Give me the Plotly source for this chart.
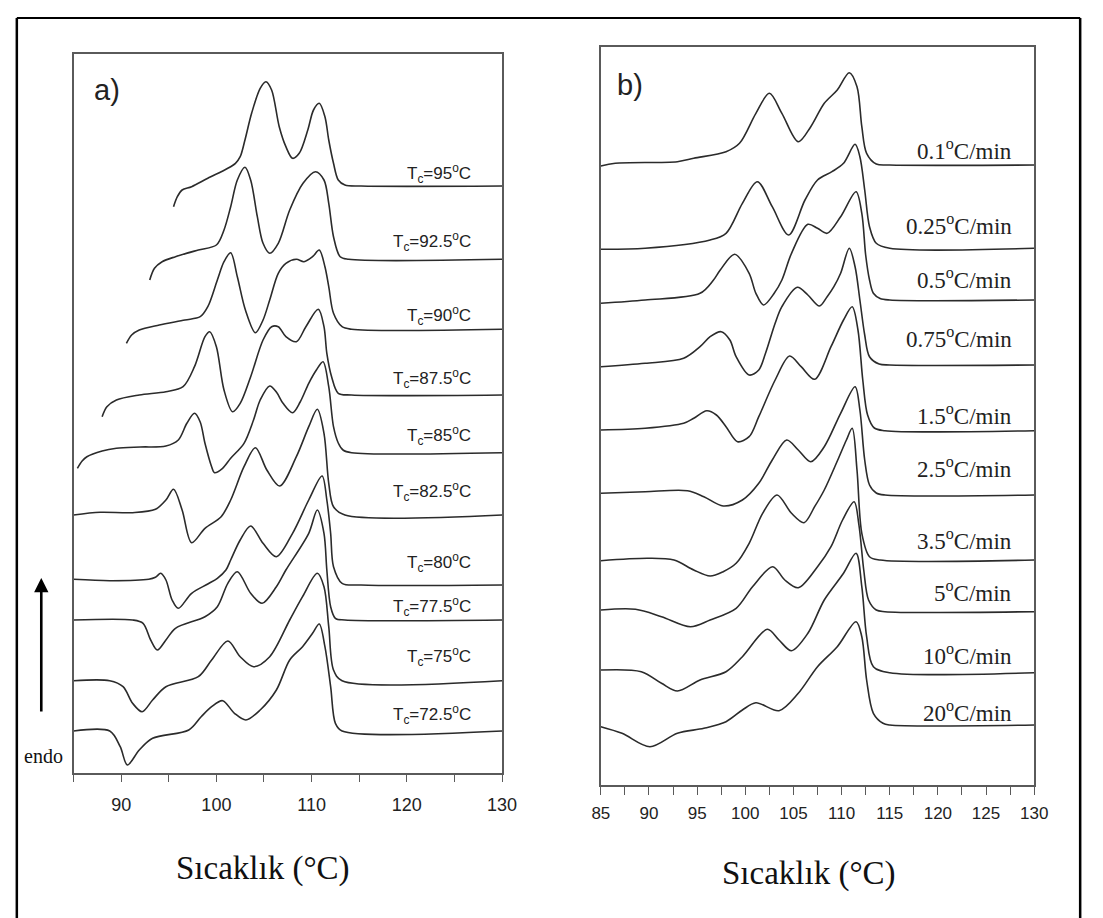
import plotly.graph_objects as go

# ---------------- Panel a: isothermal crystallization (Tc) ----------------
tc_labels = ["95", "92.5", "90", "87.5", "85", "82.5", "80", "77.5", "75", "72.5"]

tc95_temp = [95.5, 95.9, 96.4, 97.4, 99.1, 101.2, 102.0, 102.5, 103.0, 103.7, 104.6, 105.2, 105.8, 106.6,
             107.3, 108.0, 108.7, 109.6, 110.2, 110.8, 111.4, 111.8, 112.3, 112.8, 113.5, 115.2, 130]
tc95_flow = [-20.7, -10.7, -4.0, -0.7, 7.7, 17.7, 22.7, 29.3, 46.0, 72.7, 97.7, 104.3, 96.0, 59.3,
             39.3, 27.7, 32.7, 56.0, 76.0, 82.7, 69.3, 46.0, 22.7, 6.0, 1.0, 0, 0]

tc92_5_temp = [93.0, 93.5, 94.3, 95.7, 98.1, 100.0, 100.8, 101.5, 102.2, 103.0, 103.6, 104.3, 104.9, 105.6,
               106.5, 107.7, 109.1, 110.4, 111.3, 111.8, 112.3, 113.0, 113.9, 130]
tc92_5_flow = [-20.7, -9.0, -2.4, 2.6, 9.3, 14.3, 29.3, 52.6, 79.3, 92.0, 79.3, 42.6, 16.0, 6.0,
               16.0, 49.3, 76.0, 87.6, 79.3, 56.0, 22.6, 2.6, 0, 0]

tc90_temp = [90.55, 91.1, 91.9, 94.0, 96.7, 98.3, 99.1, 100.1, 100.8, 101.5, 102.2, 103.05, 104.1, 104.9,
             105.6, 106.5, 107.3, 108.4, 109.2, 110.1, 110.8, 111.4, 111.8, 112.3, 113.2, 114.2, 130]
tc90_flow = [-14.0, -5.7, -0.7, 4.3, 9.3, 12.6, 22.6, 49.3, 67.6, 76.6, 52.6, 19.3, -3.4, 9.3,
             29.3, 56.0, 66.0, 70.0, 67.6, 72.6, 79.3, 62.6, 42.6, 16.0, 2.6, 0, 0]

tc87_5_temp = [88.0, 88.5, 89.5, 91.9, 94.7, 96.5, 97.7, 98.8, 99.3, 100.0, 100.8, 101.7, 102.5, 103.6,
               104.9, 105.8, 106.5, 107.3, 108.4, 109.4, 110.7, 111.3, 111.6, 112.1, 112.8, 114.2, 130]
tc87_5_flow = [-21.7, -11.7, -5.0, 0, 3.3, 8.3, 28.3, 58.3, 63.3, 48.3, 5.0, -16.7, -8.3, 18.3,
               55.0, 68.3, 68.3, 58.3, 53.3, 68.3, 85.7, 68.3, 41.7, 18.3, 1.7, 0, 0]

tc85_temp = [85.4, 85.9, 86.4, 88.0, 89.5, 92.0, 94.7, 96.0, 96.9, 97.7, 98.3, 98.8, 99.5, 99.8, 100.65,
             101.5, 102.9, 103.9, 104.6, 105.6, 106.3, 107.0, 108.0, 108.8, 109.7, 110.5, 111.2, 111.8,
             112.3, 112.8, 113.3, 114.2, 130]
tc85_flow = [-15.6, -8.3, -4.0, 1.7, 4.4, 5.7, 6.7, 12.7, 29.4, 39.4, 30.7, 9.4, -14.0, -20.0, -15.6,
             -5.6, 9.4, 32.7, 52.7, 66.7, 60.7, 49.4, 40.0, 50.7, 69.4, 82.7, 91.0, 66.0,
             26.0, 9.7, 2.7, 0, 0]

tc82_5_temp = [85.0, 87.8, 91.2, 93.6, 94.7, 95.5, 96.4, 97.4, 98.8, 100.5, 101.5, 102.9, 104.1, 105.3,
               106.65, 108.4, 109.7, 110.6, 111.3, 111.8, 112.3, 113.5, 130]
tc82_5_flow = [0, 2.7, 2.3, 5.7, 15.0, 25.7, 5.0, -27.7, -13.3, -1.7, 15.0, 48.3, 67.3, 45.0,
               29.0, 58.3, 88.3, 105.7, 81.7, 31.7, 8.3, 0, 0]

tc80_temp = [85.0, 88.8, 92.9, 93.6, 94.15, 94.7, 95.35, 96.0, 97.4, 99.1, 100.1, 101.0, 101.5, 102.5,
             103.6, 104.9, 106.3, 108.0, 109.7, 111.1, 111.6, 112.0, 112.3, 113.2, 115.2, 130]
tc80_flow = [5.7, 4.3, 5.7, 7.7, 11.7, 5.0, -15.0, -23.3, -8.3, 1.0, 6.7, 15.0, 25.0, 45.0,
             59.0, 41.7, 28.3, 51.7, 85.0, 109.0, 85.0, 51.7, 18.3, 1.7, 0, 0]

tc77_5_temp = [85.0, 91.2, 92.3, 93.1, 93.8, 94.7, 95.7, 98.8, 100.1, 101.2, 102.2, 103.6, 104.8, 106.3,
               107.3, 109.7, 110.6, 111.3, 111.6, 112.0, 112.5, 113.5, 130]
tc77_5_flow = [0, 0, -3.3, -20.0, -30.0, -20.0, -8.3, 3.3, 13.3, 36.7, 48.3, 26.7, 16.7, 33.3,
               50.0, 86.7, 110.0, 86.7, 50.0, 13.3, 1.7, 0, 0]

tc75_temp = [85.0, 88.8, 90.2, 91.2, 92.2, 93.3, 94.7, 98.1, 99.5, 101.2, 102.5, 103.9, 105.6, 107.7,
             109.05, 110.6, 111.3, 111.8, 112.3, 113.2, 130]
tc75_flow = [0, 0, -6.0, -22.6, -31.0, -19.3, -6.0, 4.0, 20.7, 39.7, 24.0, 14.0, 24.0, 60.7,
             84.0, 107.4, 94.0, 54.0, 10.7, 0, 0]

tc72_5_temp = [85.0, 88.8, 89.9, 90.65, 91.9, 93.3, 97.1, 98.4, 99.5, 100.65, 101.9, 103.1, 104.6, 106.3,
               107.7, 109.05, 110.1, 110.8, 111.4, 112.0, 112.5, 113.2, 130]
tc72_5_flow = [0, 0, -15.7, -34.0, -19.0, -7.3, 1.0, 14.3, 24.3, 30.3, 17.7, 11.0, 21.0, 41.0,
               71.0, 84.3, 97.7, 107.0, 84.3, 44.3, 7.7, 0, 0]

# vertical shift applied to each thermogram so they stack
a_offsets = [587, 513.7, 443.7, 378, 320.3, 258, 188, 153, 92.3, 42]

# ---------------- Panel b: cooling rates ----------------
rate_labels = ["0.1", "0.25", "0.5", "0.75", "1.5", "2.5", "3.5", "5", "10", "20"]

r01_temp = [85.0, 86.5, 92.95, 94.65, 98.0, 99.4, 101.1, 102.5, 103.8, 105.5, 106.8, 108.2, 109.55,
            110.8, 111.6, 112.1, 112.6, 113.6, 115.0, 130]
r01_flow = [-1.0, 1.7, 3.3, 6.7, 13.3, 21.7, 51.7, 71.7, 51.7, 23.3, 38.3, 61.7, 75.0,
            92.3, 78.3, 38.3, 11.7, 1.0, 0, 0]

r025_temp = [85.0, 89.6, 96.35, 98.0, 99.7, 101.25, 102.8, 104.5, 106.2, 107.5, 109.0, 110.2, 111.4,
             111.9, 112.4, 112.9, 113.6, 115.0, 130]
r025_flow = [-1.0, 0, 8.3, 15.0, 45.0, 66.6, 41.6, 13.3, 48.3, 68.3, 76.6, 85.0, 104.0,
             91.6, 58.3, 21.6, 5.0, 0, 0]

r05_temp = [85.0, 89.6, 95.3, 96.7, 97.4, 98.9, 100.4, 101.1, 101.9, 103.0, 103.8, 104.8, 106.5, 107.5,
            108.5, 109.9, 111.5, 112.1, 112.5, 112.9, 113.3, 114.0, 115.0, 130]
r05_flow = [-3.3, 0, 6.7, 20.0, 30.0, 45.7, 26.7, 6.7, -5.0, 6.7, 20.0, 46.7, 75.7, 71.7,
            66.7, 83.3, 108.3, 86.7, 45.0, 20.0, 6.7, 1.5, 0, 0]

r075_temp = [85.0, 89.6, 93.6, 95.3, 96.35, 97.5, 98.4, 99.05, 100.4, 101.4, 102.1, 103.1, 103.8, 105.4,
             106.5, 107.7, 108.5, 109.2, 109.9, 110.8, 111.4, 111.9, 112.4, 112.9, 113.9, 115.0, 130]
r075_flow = [-1.7, 1.7, 6.7, 18.3, 28.3, 33.3, 25.0, 8.3, -10.0, -5.0, 11.7, 41.7, 58.3, 77.7,
             70.0, 59.0, 68.3, 78.3, 91.7, 116.7, 98.3, 65.0, 30.0, 8.3, 1.0, 0, 0]

r15_temp = [85.0, 89.6, 93.6, 94.65, 96.0, 97.0, 98.0, 99.2, 100.4, 101.4, 103.1, 104.6, 105.8, 107.2,
            108.9, 110.2, 111.1, 111.7, 112.2, 112.7, 113.4, 114.5, 130]
r15_flow = [0.7, 2.4, 7.4, 12.4, 20.0, 15.7, 4.0, -11.0, -6.0, 14.0, 50.7, 74.7, 64.0, 51.4,
            84.0, 110.7, 124.0, 100.7, 50.7, 15.7, 2.7, 0, 0]

r25_temp = [85.0, 89.6, 94.0, 95.7, 97.7, 99.7, 101.4, 102.8, 104.3, 105.5, 106.8, 108.2, 109.9, 111.4,
            111.9, 112.4, 112.9, 113.6, 114.5, 130]
r25_flow = [1.7, 3.3, 4.3, -1.7, -11.0, -5.0, 11.7, 35.0, 55.0, 45.0, 33.3, 48.3, 81.7, 108.3,
            85.0, 35.0, 10.0, 2.0, 0, 0]

r35_temp = [85.0, 89.9, 92.6, 94.65, 96.35, 97.7, 99.05, 100.4, 101.8, 103.3, 104.8, 106.1, 107.2, 108.2,
            109.6, 110.5, 111.1, 111.6, 112.1, 112.9, 114.0, 130]
r35_flow = [-0.7, 1.7, 0, -10.0, -16.0, -11.7, -3.3, 16.7, 46.7, 65.0, 46.7, 37.3, 53.3, 70.0,
            100.0, 120.0, 131.7, 90.0, 26.7, 3.3, 0, 0]

r5_temp = [85.0, 88.6, 91.3, 94.3, 96.35, 99.05, 100.75, 102.85, 104.1, 105.5, 107.5, 108.9, 110.1, 111.3,
           111.8, 112.3, 112.8, 113.6, 114.5, 130]
r5_flow = [1.7, 2.4, -5.0, -15.0, -8.3, 3.4, 25.0, 45.0, 31.7, 24.0, 45.0, 65.0, 91.7, 110.0,
           86.7, 41.7, 11.7, 1.7, 0, 0]

r10_temp = [85.0, 89.2, 91.3, 92.95, 95.3, 98.0, 99.7, 102.3, 103.5, 104.8, 106.5, 108.2, 110.2, 111.5,
            112.1, 112.6, 113.3, 115.0, 130]
r10_flow = [2.7, 1.0, -10.6, -18.3, -7.3, 1.0, 16.0, 43.4, 32.7, 22.0, 39.4, 72.7, 99.4, 119.4,
            86.0, 36.0, 6.0, 0, 0]

r20_temp = [85.0, 87.2, 90.1, 92.95, 95.7, 98.0, 99.7, 101.1, 103.5, 105.5, 107.5, 109.55, 111.5, 112.1,
            112.6, 113.3, 114.3, 115.0, 130]
r20_flow = [-1.7, -8.3, -21.7, -8.3, -3.3, 3.3, 15.0, 22.3, 14.3, 31.7, 58.3, 78.3, 103.3, 88.3,
            45.0, 11.7, 1.7, 0, 0]

b_offsets = [620, 536.7, 485, 420, 354.3, 290, 225, 173.3, 112.3, 60]

# ---------------- figure ----------------
W, H = 1103, 918
CURVE = dict(color="#2b2b2b", width=1.6, shape="spline", smoothing=0.9)
SERIF = "Liberation Serif, Times New Roman, serif"
SANS = "Liberation Sans, Arial, sans-serif"

a_curves = [(tc95_temp, tc95_flow), (tc92_5_temp, tc92_5_flow), (tc90_temp, tc90_flow),
            (tc87_5_temp, tc87_5_flow), (tc85_temp, tc85_flow), (tc82_5_temp, tc82_5_flow),
            (tc80_temp, tc80_flow), (tc77_5_temp, tc77_5_flow), (tc75_temp, tc75_flow),
            (tc72_5_temp, tc72_5_flow)]
b_curves = [(r01_temp, r01_flow), (r025_temp, r025_flow), (r05_temp, r05_flow),
            (r075_temp, r075_flow), (r15_temp, r15_flow), (r25_temp, r25_flow),
            (r35_temp, r35_flow), (r5_temp, r5_flow), (r10_temp, r10_flow), (r20_temp, r20_flow)]

fig = go.Figure()
for (t, q), off in zip(a_curves, a_offsets):
    fig.add_trace(go.Scatter(x=t, y=[v + off for v in q], mode="lines", line=CURVE,
                             xaxis="x", yaxis="y", showlegend=False, hoverinfo="skip"))
for (t, q), off in zip(b_curves, b_offsets):
    fig.add_trace(go.Scatter(x=t, y=[v + off for v in q], mode="lines", line=CURVE,
                             xaxis="x2", yaxis="y2", showlegend=False, hoverinfo="skip"))


def px_x(p):
    return p / W


def px_y(p):
    return 1 - p / H


frame = dict(showline=True, linecolor="#5a5a5a", linewidth=1.6, mirror=True,
             showgrid=False, zeroline=False)

fig.update_layout(
    width=W, height=H, margin=dict(l=0, r=0, t=0, b=0), autosize=False,
    paper_bgcolor="white", plot_bgcolor="white",
    xaxis=dict(domain=[px_x(66), px_x(504)], range=[85, 130], anchor="y",
               tickmode="linear", tick0=90, dtick=10, ticks="outside", ticklen=7,
               tickcolor="#5a5a5a", tickwidth=1.3, ticklabelstandoff=8,
               minor=dict(dtick=5, tick0=85, ticks="outside", ticklen=7, tickcolor="#5a5a5a",
                          tickwidth=1.3),
               tickfont=dict(family=SANS, size=18, color="#222"), **frame),
    yaxis=dict(domain=[px_y(773), px_y(54)], range=[0, 719], anchor="x",
               showticklabels=False, ticks="", **frame),
    xaxis2=dict(domain=[px_x(605), px_x(1048)], range=[85, 130], anchor="y2",
                tickmode="linear", tick0=85, dtick=5, ticks="outside", ticklen=8,
                tickcolor="#5a5a5a", tickwidth=1.3, ticklabelstandoff=4,
                minor=dict(dtick=2.5, tick0=85, ticks="outside", ticklen=8, tickcolor="#5a5a5a",
                           tickwidth=1.3),
                tickfont=dict(family=SANS, size=17, color="#222"), **frame),
    yaxis2=dict(domain=[px_y(785), px_y(47.3)], range=[0, 737.7], anchor="x2",
                showticklabels=False, ticks="", **frame),
)

ann = []
# curve labels, panel a
a_label_gap = [13, 18, 14, 17, 17, 24, 23, 14, 24, 17]
for lab, off, gap in zip(tc_labels, a_offsets, a_label_gap):
    ann.append(dict(x=126.9, y=off + gap, xref="x", yref="y", xanchor="right", yanchor="middle",
                    text=f"T<sub>c</sub>={lab}<sup>o</sup>C", showarrow=False,
                    font=dict(family=SANS, size=17, color="#222")))
# curve labels, panel b
b_label_gap = [18, 27, 24, 30, 19, 30, 24, 23, 21, 17]
for lab, off, gap in zip(rate_labels, b_offsets, b_label_gap):
    ann.append(dict(x=127.9, y=off + gap - 3, xref="x2", yref="y2", xanchor="right", yanchor="middle",
                    text=f"{lab}<sup>o</sup>C/min", showarrow=False,
                    font=dict(family=SERIF, size=23, color="#222")))


def paper_text(x, y, text, font):
    return dict(x=px_x(x), y=px_y(y), xref="paper", yref="paper", text=text, showarrow=False,
                xanchor="center", yanchor="middle", font=font)


ann += [
    paper_text(100, 90, "a)", dict(family=SANS, size=29, color="#222")),
    paper_text(635, 85, "b)", dict(family=SANS, size=29, color="#222")),
    paper_text(260, 868, "Sıcaklık (°C)", dict(family=SERIF, size=33, color="#111")),
    paper_text(818, 873, "Sıcaklık (°C)", dict(family=SERIF, size=33, color="#111")),
    paper_text(35, 756, "endo", dict(family=SERIF, size=20, color="#111")),
    dict(x=px_x(33), y=px_y(578), xref="paper", yref="paper", text="", showarrow=True,
         ax=0, ay=135, arrowhead=2, arrowsize=1.1, arrowwidth=2.6, arrowcolor="#000"),
]
fig.update_layout(annotations=ann)

# outer figure border
fig.update_layout(shapes=[
    dict(type="line", xref="paper", yref="paper", x0=px_x(8), x1=px_x(8), y0=0, y1=px_y(18),
         line=dict(color="#000", width=2.5)),
    dict(type="line", xref="paper", yref="paper", x0=px_x(1095), x1=px_x(1095), y0=0, y1=px_y(18),
         line=dict(color="#000", width=2.5)),
    dict(type="line", xref="paper", yref="paper", x0=px_x(8), x1=px_x(1095), y0=px_y(18), y1=px_y(18),
         line=dict(color="#000", width=2)),
])

# keep the figure at the window origin with no page margin or scrollbars
page_fix = "document.body.style.margin='0';document.body.style.overflow='hidden';"
fig.write_html("out.html", post_script=page_fix)
